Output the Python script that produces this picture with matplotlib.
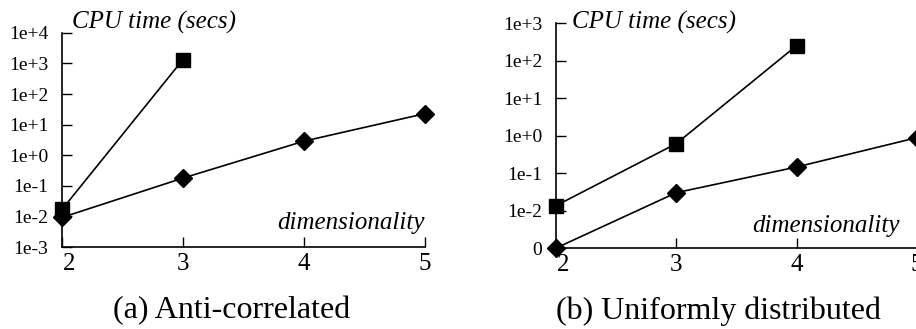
import matplotlib
matplotlib.use('Agg')
from matplotlib import pyplot as plt
from matplotlib.ticker import FixedLocator, FixedFormatter
from matplotlib.transforms import ScaledTranslation

plt.rcParams['font.family'] = ['Liberation Serif', 'DejaVu Serif']

# Anti-correlated data set
anti_dims_sq = [2, 3]
anti_time_sq = [0.017, 1350]
anti_dims_di = [2, 3, 4, 5]
anti_time_di = [0.0093, 0.18, 2.9, 23]
anti_yticks = [1e-3, 1e-2, 1e-1, 1e0, 1e1, 1e2, 1e3, 1e4]
anti_ylabels = ['1e-3', '1e-2', '1e-1', '1e+0', '1e+1', '1e+2', '1e+3', '1e+4']

# Uniformly distributed data set
unif_dims_sq = [2, 3, 4]
unif_time_sq = [0.0135, 0.61, 250]
unif_dims_di = [2, 3, 4, 5]
unif_time_di = [0.001, 0.03, 0.145, 0.88]
unif_yticks = [1e-3, 1e-2, 1e-1, 1e0, 1e1, 1e2, 1e3]
unif_ylabels = ['0', '1e-2', '1e-1', '1e+0', '1e+1', '1e+2', '1e+3']

x_ticks = [2, 3, 4, 5]


def draw_panel(ax, dims_sq, time_sq, dims_di, time_di, yticks, ylabels):
    ax.plot(dims_sq, time_sq, color='black', lw=1.2, marker='s', ms=9.5,
            clip_on=False, zorder=3)
    ax.plot(dims_di, time_di, color='black', lw=1.2, marker='D', ms=9,
            clip_on=False, zorder=3)
    ax.set_yscale('log')
    ax.set_xlim(2, 5)
    ax.set_ylim(yticks[0], yticks[-1])
    ax.yaxis.set_major_locator(FixedLocator(yticks))
    ax.yaxis.set_major_formatter(FixedFormatter(ylabels))
    ax.yaxis.set_minor_locator(FixedLocator([]))
    ax.set_xticks(x_ticks)
    ax.set_xticklabels([str(t) for t in x_ticks])
    for side in ['top', 'right']:
        ax.spines[side].set_visible(False)
    for side in ['left', 'bottom']:
        ax.spines[side].set_linewidth(1.2)
    ax.tick_params(axis='y', direction='in', length=7, width=1, pad=10,
                   labelsize=14)
    ax.tick_params(axis='x', direction='in', length=7, width=1, pad=4,
                   labelsize=18)
    # nudge the first x label off the y axis
    first = ax.get_xticklabels()[0]
    first.set_transform(first.get_transform() +
                        ScaledTranslation(0.07, 0, ax.figure.dpi_scale_trans))


fig = plt.figure(figsize=(9.16, 3.29), dpi=100)
ax1 = fig.add_axes([0.0677, 0.249, 0.3963, 0.651])
ax2 = fig.add_axes([0.607, 0.246, 0.394, 0.684])

draw_panel(ax1, anti_dims_sq, anti_time_sq, anti_dims_di, anti_time_di,
           anti_yticks, anti_ylabels)
draw_panel(ax2, unif_dims_sq, unif_time_sq, unif_dims_di, unif_time_di,
           unif_yticks, unif_ylabels)

# axis titles
fig.text(72 / 916, 1 - 22 / 329, 'CPU time (secs)', fontsize=18,
         style='italic', ha='left', va='center')
fig.text(572 / 916, 1 - 22 / 329, 'CPU time (secs)', fontsize=18,
         style='italic', ha='left', va='center')
fig.text(425 / 916, 1 - 223 / 329, 'dimensionality', fontsize=18,
         style='italic', ha='right', va='center')
fig.text(900 / 916, 1 - 226 / 329, 'dimensionality', fontsize=18,
         style='italic', ha='right', va='center')

# panel captions
fig.text(232 / 916, 1 - 311 / 329, '(a) Anti-correlated', fontsize=23,
         ha='center', va='center')
fig.text(718 / 916, 1 - 311 / 329, '(b) Uniformly distributed', fontsize=23,
         ha='center', va='center')

fig.savefig('out.png', dpi=100)
